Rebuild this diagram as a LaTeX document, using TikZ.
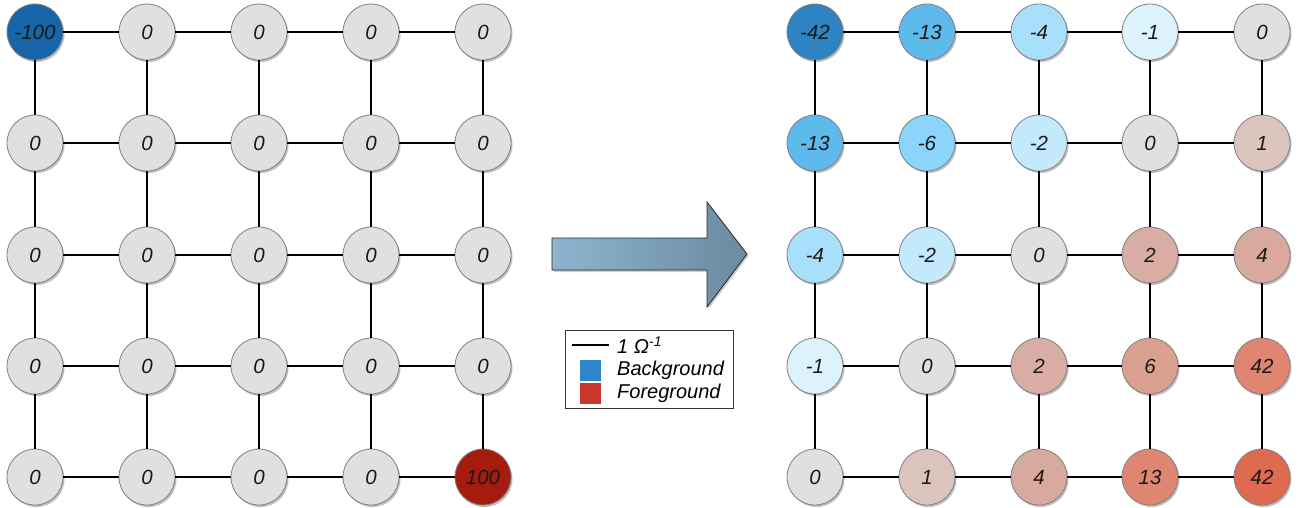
\documentclass[tikz,border=0pt]{standalone}
\usepackage{fontspec}
\setmainfont{Liberation Sans}
\usetikzlibrary{shadows}
\definecolor{cZ}{HTML}{E0E0E0}
\definecolor{bordergray}{HTML}{808080}
\definecolor{cNL}{HTML}{1565A8}
\definecolor{cPL}{HTML}{A51C0E}
\definecolor{cNa}{HTML}{2E83C3}
\definecolor{cNb}{HTML}{5DBAEB}
\definecolor{cNc}{HTML}{8CD4FA}
\definecolor{cNd}{HTML}{A8DFFB}
\definecolor{cNe}{HTML}{C4E9FC}
\definecolor{cNf}{HTML}{DCF2FD}
\definecolor{cPf}{HTML}{DCC4BE}
\definecolor{cPe}{HTML}{D9ADA3}
\definecolor{cPd}{HTML}{D8AA9F}
\definecolor{cPc}{HTML}{DBA190}
\definecolor{cPb}{HTML}{DE8672}
\definecolor{cPa}{HTML}{DE6A50}
\definecolor{arrowL}{HTML}{8DB4CF}
\definecolor{arrowR}{HTML}{6A8AA0}
\definecolor{legBlue}{HTML}{2E86C8}
\definecolor{legRed}{HTML}{C8372A}
\begin{document}
\begin{tikzpicture}[x=1pt,y=-1pt,
  cell/.style={circle, minimum size=56pt, inner sep=0pt, draw=bordergray, line width=0.8pt,
    fill=#1, text=black!90, font=\itshape\fontsize{20.5}{24}\selectfont,
    drop shadow={shadow xshift=1.5pt, shadow yshift=-2pt, fill=black, opacity=0.25}},
  wire/.style={line width=2pt, black},
  legtext/.style={anchor=west, inner sep=0pt, font=\itshape\fontsize{20}{24}\selectfont},
  legsq/.style={minimum size=21pt, inner sep=0pt, fill=#1}]
\useasboundingbox (0,0) rectangle (1303,507);

% left grid
\foreach \r/\y in {0/32,1/143,2/255,3/366,4/477}{
  \foreach \c/\x in {0/35,1/147,2/259,3/371,4/483}{
    \pgfmathtruncatemacro\k{10*\r+\c}
    \ifnum\k=0
      \node[cell=cNL] (L-\r-\c) at (\x,\y) {-100};
    \else\ifnum\k=44
      \node[cell=cPL] (L-\r-\c) at (\x,\y) {100};
    \else
      \node[cell=cZ] (L-\r-\c) at (\x,\y) {0};
    \fi\fi
  }
}

% right grid
\foreach \r/\c/\x/\y/\v/\f in {
  0/0/815/32/-42/cNa, 0/1/927/32/-13/cNb, 0/2/1039/32/-4/cNd, 0/3/1150/32/-1/cNf, 0/4/1262/32/0/cZ,
  1/0/815/143/-13/cNb, 1/1/927/143/-6/cNc, 1/2/1039/143/-2/cNe, 1/3/1150/143/0/cZ, 1/4/1262/143/1/cPf,
  2/0/815/255/-4/cNd, 2/1/927/255/-2/cNe, 2/2/1039/255/0/cZ, 2/3/1150/255/2/cPe, 2/4/1262/255/4/cPd,
  3/0/815/366/-1/cNf, 3/1/927/366/0/cZ, 3/2/1039/366/2/cPe, 3/3/1150/366/6/cPc, 3/4/1262/366/42/cPb,
  4/0/815/477/0/cZ, 4/1/927/477/1/cPf, 4/2/1039/477/4/cPd, 4/3/1150/477/13/cPb, 4/4/1262/477/42/cPa}{
  \node[cell=\f] (R-\r-\c) at (\x,\y) {\v};
}

% wires
\foreach \g in {L,R}{
  \foreach \r in {0,...,4}{
    \foreach \c in {0,...,3}{
      \pgfmathtruncatemacro\n{\c+1}
      \draw[wire] (\g-\r-\c) -- (\g-\r-\n);
      \draw[wire] (\g-\c-\r) -- (\g-\n-\r);
    }
  }
}

% big arrow
\path[draw=black!85, line width=0.8pt, left color=arrowL, right color=arrowR,
  drop shadow={shadow xshift=1.5pt, shadow yshift=-2pt, fill=black, opacity=0.2}]
  (552,238) -- (707,238) -- (707,202) -- (747,254) -- (707,307) -- (707,270) -- (552,270) -- cycle;

% legend
\node[draw=black!80, line width=0.8pt, fill=white, minimum width=168pt, minimum height=78pt, inner sep=0pt] (legend) at (649,369) {};
\coordinate (lgA) at (572,345);
\coordinate (lgB) at (609,345);
\draw[wire] (lgA) -- (lgB);
\node[legtext] (lg1) at (617,345) {1 Ω\textsuperscript{-1}};
\node[legsq=legBlue] (sqB) at (590.5,370.5) {};
\node[legsq=legRed] (sqF) at (590.5,393.5) {};
\node[legtext] (lg2) at (617,370.5) {Background};
\node[legtext] (lg3) at (617,393.5) {Foreground};
\end{tikzpicture}
\end{document}
